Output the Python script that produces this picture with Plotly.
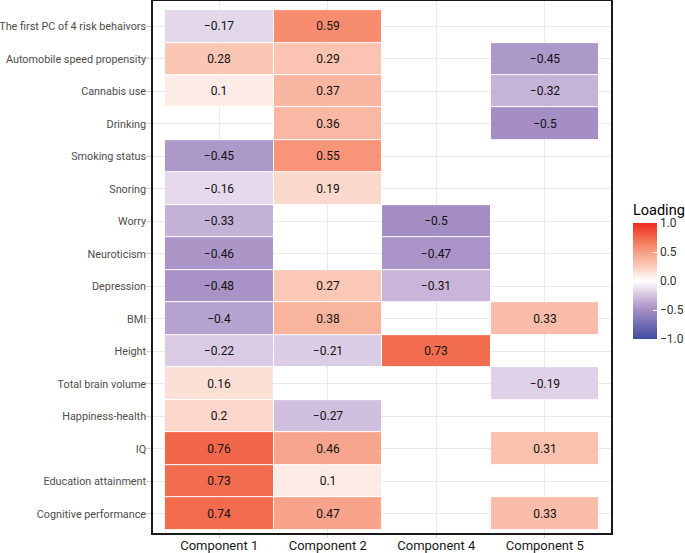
import plotly.graph_objects as go

traits = [
    "The first PC of 4 risk behaivors",
    "Automobile speed propensity",
    "Cannabis use",
    "Drinking",
    "Smoking status",
    "Snoring",
    "Worry",
    "Neuroticism",
    "Depression",
    "BMI",
    "Height",
    "Total brain volume",
    "Happiness-health",
    "IQ",
    "Education attainment",
    "Cognitive performance",
]
components = ["Component 1", "Component 2", "Component 4", "Component 5"]

comp1 = [-0.17, 0.28, 0.1, None, -0.45, -0.16, -0.33, -0.46, -0.48, -0.4, -0.22, 0.16, 0.2, 0.76, 0.73, 0.74]
comp2 = [0.59, 0.29, 0.37, 0.36, 0.55, 0.19, None, None, 0.27, 0.38, -0.21, None, -0.27, 0.46, 0.1, 0.47]
comp4 = [None, None, None, None, None, None, -0.5, -0.47, -0.31, None, 0.73, None, None, None, None, None]
comp5 = [None, -0.45, -0.32, -0.5, None, None, None, None, None, 0.33, None, -0.19, None, 0.31, None, 0.33]

legend_ticks = [-1.0, -0.5, 0.0, 0.5, 1.0]

cols = [comp1, comp2, comp4, comp5]
z = [[cols[j][i] for j in range(4)] for i in range(len(traits))]


def fmt(v):
    if v is None:
        return ""
    return str(v).replace("-", "\u2212")


text = [[fmt(v) for v in row] for row in z]

colorscale = [
    [0.0, "#3F4BA0"],
    [0.25, "#A48EC4"],
    [0.34, "#C6B3D8"],
    [0.415, "#E3D7EA"],
    [0.5, "#FFFFFF"],
    [0.55, "#FDECE5"],
    [0.64, "#FBC6B4"],
    [0.735, "#F7A48B"],
    [0.795, "#F88C6F"],
    [0.87, "#F26B4D"],
    [1.0, "#EE2B20"],
]

fig = go.Figure()
fig.add_trace(go.Heatmap(
    z=z,
    x=components,
    y=traits,
    text=text,
    texttemplate="%{text}",
    textfont=dict(family="Roboto", size=12, color="#111111"),
    colorscale=colorscale,
    zmin=-1, zmax=1,
    xgap=1, ygap=1,
    hoverongaps=False,
    colorbar=dict(
        title=dict(text="Loading", side="top", font=dict(family="Roboto", size=14.5, color="#000000")),
        x=1.048, xanchor="left",
        y=0.494, yanchor="middle",
        lenmode="pixels", len=138,
        thickness=24,
        outlinewidth=0,
        tickvals=legend_ticks,
        ticktext=[fmt(v) for v in legend_ticks],
        ticks="inside", ticklen=4, tickcolor="white",
        tickfont=dict(family="Roboto", size=12, color="#333333"),
        xpad=0, ypad=0,
    ),
))

fig.update_layout(
    width=685, height=553,
    margin=dict(l=153, r=74, t=1, b=20, autoexpand=False),
    paper_bgcolor="white",
    plot_bgcolor="white",
    font=dict(family="Roboto"),
)
fig.update_xaxes(
    type="category",
    categoryorder="array", categoryarray=components,
    range=[-0.61, 3.61],
    showgrid=True, gridcolor="#EBEBEB", gridwidth=1,
    showline=True, linecolor="#1A1A1A", linewidth=1.5, mirror=True,
    ticks="outside", ticklen=3, tickcolor="#D0D0D0",
    ticklabelstandoff=-3,
    tickfont=dict(family="Roboto", size=13, color="#1A1A1A"),
    zeroline=False,
)
fig.update_yaxes(
    type="category",
    categoryorder="array", categoryarray=traits,
    range=[15.59, -0.78],
    showgrid=True, gridcolor="#EBEBEB", gridwidth=1,
    showline=True, linecolor="#1A1A1A", linewidth=1.5, mirror=True,
    ticks="outside", ticklen=5, tickcolor="#D0D0D0",
    ticklabelstandoff=-2,
    tickfont=dict(family="Roboto", size=10.8, color="#4D4D4D"),
    zeroline=False,
)

fig.write_html(
    "out.html",
    config={"displayModeBar": False},
    post_script="document.body.style.margin='0px';document.body.style.overflow='hidden';",
)
